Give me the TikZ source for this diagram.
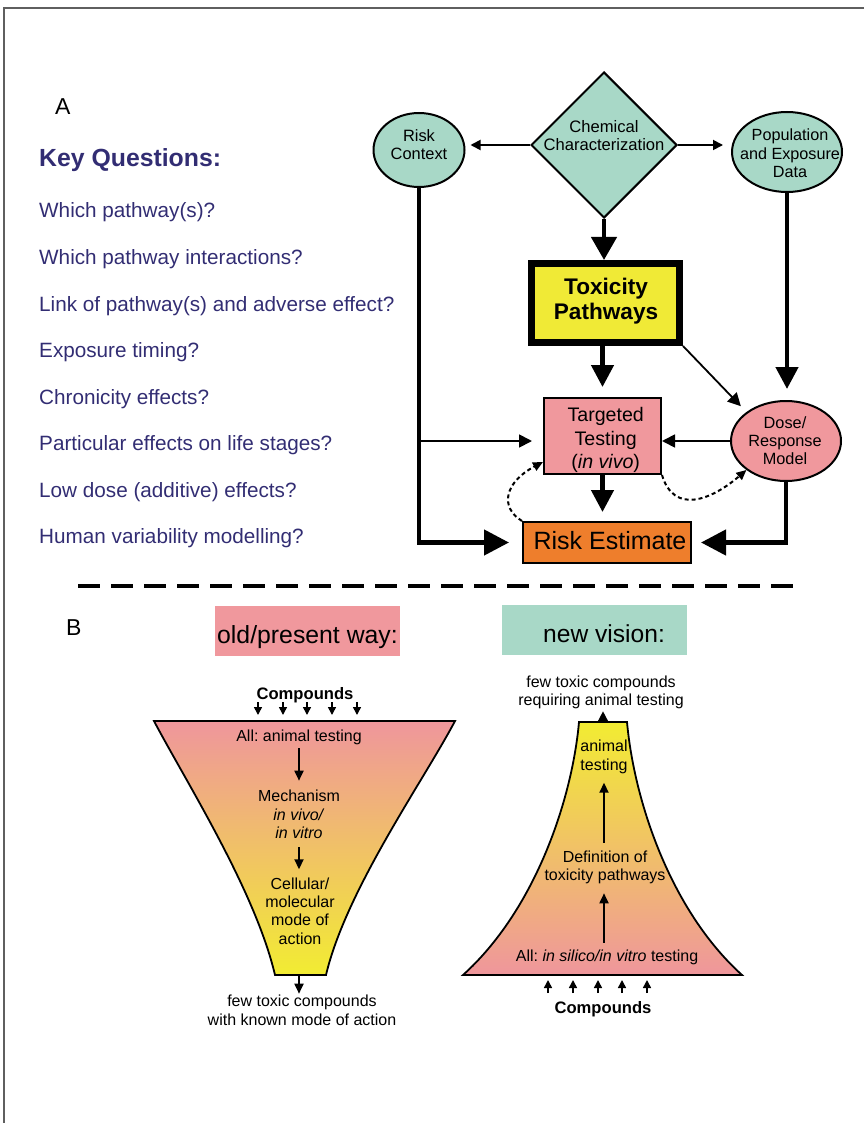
\documentclass[tikz,border=0pt]{standalone}
\usepackage{fontspec}
\setmainfont{Liberation Sans}
\usetikzlibrary{shapes.geometric,arrows.meta}
\frenchspacing

\definecolor{tealfill}{RGB}{168,216,199}
\definecolor{pinkfill}{RGB}{240,152,157}
\definecolor{yelfill}{RGB}{240,234,54}
\definecolor{orangefill}{RGB}{238,126,44}
\definecolor{qblue}{RGB}{50,45,115}
\definecolor{framegray}{RGB}{95,95,95}
\definecolor{funpink}{RGB}{239,150,156}
\definecolor{funyel}{RGB}{242,236,50}

% centred multi-line text whose baseline is that of its first line
\newcommand{\mlstack}[1]{\begin{tabular}[t]{@{}c@{}}#1\end{tabular}}
\newcommand{\fsz}[2]{\fontsize{#1}{#2}\selectfont}

\begin{document}
\begin{tikzpicture}[x=1pt,y=-1pt,
  txt/.style={inner sep=0pt, anchor=base},
  qtxt/.style={inner sep=0pt, anchor=base west, text=qblue, font=\fsz{20.7}{24}},
  shapebox/.style={draw, line width=2pt, inner sep=0pt},
  thickln/.style={line width=4.5pt},
  thinln/.style={line width=1.8pt},
  bigtip/.style={-{Triangle[length=22pt,width=22pt]}},
  toptip/.style={-{Triangle[length=23pt,width=25pt]}},
  hugetip/.style={-{Triangle[length=25pt,width=25pt]}},
  smalltip/.style={-{Triangle[length=10pt,width=10pt]}},
  midtip/.style={-{Triangle[length=13pt,width=13pt]}},
  dashln/.style={line width=2pt, dash pattern=on 4pt off 3pt, -{Triangle[length=10pt,width=9pt]}},
  farrow/.style={line width=1.8pt, -{Triangle[length=10pt,width=9pt]}},
  tinyarrow/.style={line width=1.5pt, -{Triangle[length=8pt,width=8pt]}},
  funnel/.style={draw, line width=1.8pt},
  ftxt/.style={txt, font=\fsz{16}{18.3}}
]
\useasboundingbox (0,0) rectangle (864,1123);

% page frame
\draw[framegray, line width=2pt] (864,8) -- (4,8) -- (4,1123);

% ---------------- panel A ----------------
\node[inner sep=0pt, anchor=base west, font=\fsz{23}{27}] (labA) at (55,115) {A};
\node[inner sep=0pt, anchor=base west, text=qblue, font=\bfseries\fsz{24.8}{28}] (kq) at (39,167) {Key Questions:};
\node[qtxt] (q1) at (39,218) {Which pathway(s)?};
\node[qtxt] (q2) at (39,264.5) {Which pathway interactions?};
\node[qtxt] (q3) at (39,311) {Link of pathway(s) and adverse effect?};
\node[qtxt] (q4) at (39,357.5) {Exposure timing?};
\node[qtxt] (q5) at (39,404) {Chronicity effects?};
\node[qtxt] (q6) at (39,450.5) {Particular effects on life stages?};
\node[qtxt] (q7) at (39,497) {Low dose (additive) effects?};
\node[qtxt] (q8) at (39,543.5) {Human variability modelling?};

% flowchart shapes
\node[shapebox, ellipse, fill=tealfill, minimum width=91pt, minimum height=74pt] (rc) at (419,150) {};
\node[shapebox, diamond, aspect=1, fill=tealfill, minimum width=146pt, minimum height=146pt] (chem) at (604,145) {};
\node[shapebox, ellipse, fill=tealfill, minimum width=110pt, minimum height=80pt] (pop) at (787,152) {};
\node[draw, line width=7pt, inner sep=0pt, fill=yelfill, minimum width=148pt, minimum height=79pt] (tox) at (605.5,303) {};
\node[shapebox, rectangle, fill=pinkfill, minimum width=117pt, minimum height=76pt] (tt) at (602.5,436) {};
\node[shapebox, ellipse, fill=pinkfill, minimum width=110pt, minimum height=80pt] (dose) at (786,441) {};
\node[shapebox, rectangle, fill=orangefill, minimum width=168pt, minimum height=41pt] (re) at (607,542.5) {};

% flowchart texts
\node[txt, font=\fsz{16.4}{18.3}] (rctxt) at (419,141.7) {\mlstack{Risk\\Context}};
\node[txt, font=\fsz{16.6}{18}] (chemtxt) at (604,132.7) {\mlstack{Chemical\\Characterization}};
\node[txt, font=\fsz{16.2}{18.2}] (poptxt) at (790,141) {\mlstack{Population\\and Exposure\\Data}};
\node[txt, font=\bfseries\fsz{22.6}{25.3}] (toxtxt) at (606,294) {\mlstack{Toxicity\\Pathways}};
\node[txt, font=\fsz{19.6}{23.3}] (tttxt) at (605.7,421.7) {\mlstack{Targeted\\Testing\\(\textit{in vivo})}};
\node[txt, font=\fsz{16.3}{18.3}] (dosetxt) at (785,428.3) {\mlstack{Dose/\\Response\\Model}};
\node[txt, font=\fsz{25}{30}] (retxt) at (610,549.3) {Risk Estimate};

% flowchart connectors
\draw[thinln, smalltip, shorten >=5pt] (chem.west) -- (chem.west -| rc.east);
\draw[thinln, smalltip, shorten >=8pt] (chem.east) -- (chem.east -| pop.west);
\draw[thickln, toptip] (chem.south) -- (chem.south |- tox.north);
\draw[thickln, bigtip, shorten >=10pt] (tt.north |- tox.south) -- (tt.north);
\draw[thinln, midtip, shorten >=8pt] (tox.south east) -- (dose.north west);
\draw[thickln, bigtip, shorten >=11pt] (pop.south) -- (pop.south |- dose.north);
\draw[thinln, midtip] (dose.west) -- (dose.west -| tt.east);
\draw[thickln, bigtip, shorten >=9pt] (tt.south) -- (tt.south |- re.north);

\coordinate (rcturn) at (rc.south |- re.west);
\coordinate (rcbranch) at (rc.south |- dose.west);
\draw[thickln, hugetip, shorten >=13pt] (rc.south) -- (rcturn) -- (re.west);
\draw[thinln, midtip, shorten >=11pt] (rcbranch) -- (rcbranch -| tt.west);

\coordinate (doseturn) at (dose.south |- re.east);
\draw[thickln, hugetip, shorten >=9pt] (dose.south) -- (doseturn) -- (re.east);

% feedback loops
\draw[dashln] (re.north west) .. controls +(-23,-14) and +(-38,20) .. ([yshift=13pt]tt.south west);
\draw[dashln] (tt.south east) .. controls +(12,40) and +(-35,30) .. (dose.south west);

% separator
\draw[line width=4pt, dash pattern=on 22pt off 11pt] (78,586) -- (798,586);

% ---------------- panel B ----------------
\node[inner sep=0pt, anchor=base west, font=\fsz{23}{27}] (labB) at (66,635) {B};

\node[fill=pinkfill, inner sep=0pt, minimum width=185pt, minimum height=50pt] (oldbox) at (307.5,631) {};
\node[fill=tealfill, inner sep=0pt, minimum width=185pt, minimum height=50pt] (newbox) at (594.5,630) {};
\node[inner sep=0pt, anchor=base west, font=\fsz{24.8}{28}] (oldtxt) at (217,643) {old/present way:};
\node[inner sep=0pt, anchor=base west, font=\fsz{24.6}{28}] (newtxt) at (543,642) {new vision:};

% narrowing funnel (old way)
\draw[funnel, top color=funpink, bottom color=funyel]
  (154,721) .. controls (185,780) and (255,890) .. (275,975)
  -- (326,975) .. controls (346,890) and (424,780) .. (455,721) -- cycle;
\coordinate (ltop) at (304,721);
\coordinate (lbot) at (299,975);

\node[txt, font=\bfseries\fsz{16.6}{18.3}] (lcmp) at (305,699) {Compounds};
\node[ftxt] (lall) at (299,741.7) {All: animal testing};
\node[ftxt] (lmech) at (299,801.7) {\mlstack{Mechanism\\\textit{in vivo/}\\\textit{in vitro}}};
\node[ftxt] (lcell) at (300,889.3) {\mlstack{Cellular/\\molecular\\mode of\\action}};
\node[ftxt] (lfew) at (302,1006.7) {\mlstack{few toxic compounds\\with known mode of action}};

\foreach \i/\x in {1/258,2/283,3/307,4/332,5/357}{
  \coordinate (lin\i) at (\x,702);
  \draw[tinyarrow, shorten >=6pt] (lin\i) -- (lin\i |- ltop);
}
\draw[farrow, shorten <=3pt, shorten >=8pt] (lall.south) -- (lall.south |- lmech.north);
\draw[farrow, shorten <=3pt, shorten >=7pt] (lmech.south) -- (lmech.south |- lcell.north);
\draw[farrow] (lbot) -- (lbot |- lfew.north);

% widening funnel (new vision)
\draw[funnel, top color=funyel, bottom color=funpink]
  (579,722) .. controls (572,800) and (535,910) .. (463,975)
  -- (742,975) .. controls (670,910) and (634,800) .. (627,722) -- cycle;
\coordinate (rtop) at (603,722);
\coordinate (rbot) at (603,975);

\node[ftxt] (rfew) at (601,687.3) {\mlstack{few toxic compounds\\requiring animal testing}};
\node[ftxt] (ranim) at (604,751.7) {\mlstack{animal\\testing}};
\node[ftxt] (rdef) at (605,862.3) {\mlstack{Definition of\\toxicity pathways}};
\node[ftxt] (rall) at (607,961.7) {All: \textit{in silico/in vitro} testing};
\node[txt, font=\bfseries\fsz{16.6}{18.3}] (rcmp) at (603,1013.3) {Compounds};

\draw[line width=1.5pt, -{Triangle[length=11pt,width=11pt]}] (rtop) -- (rtop |- rfew.south);
\draw[farrow, shorten <=7pt, shorten >=7pt] (rall.north -| ranim.south) -- (rdef.south -| ranim.south);
\draw[farrow, shorten <=6.5pt, shorten >=7pt] (rdef.north -| ranim.south) -- (ranim.south);

\foreach \i/\x in {1/548,2/573,3/598,4/622,5/647}{
  \coordinate (rin\i) at (\x,993);
  \draw[tinyarrow, shorten >=5pt] (rin\i) -- (rin\i |- rbot);
}
\end{tikzpicture}
\end{document}
